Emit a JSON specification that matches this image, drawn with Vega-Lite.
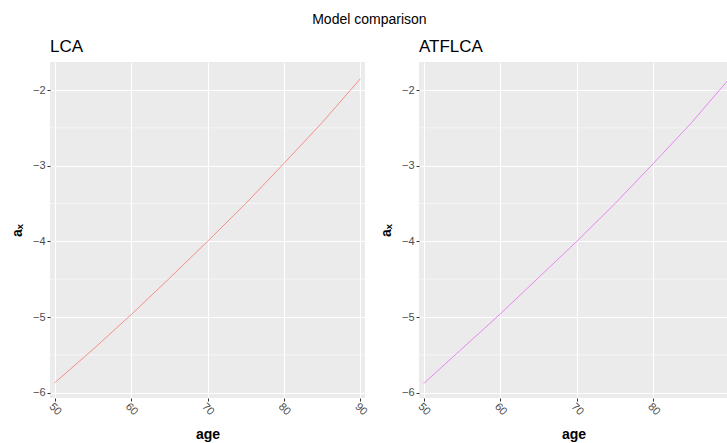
{
  "$schema": "https://vega.github.io/schema/vega-lite/v6.json",
  "background": "white",
  "padding": {"left": 10, "top": 13, "right": 0, "bottom": 0},
  "title": {"text": "Model comparison", "fontSize": 14, "font": "Liberation Sans", "fontWeight": "normal", "anchor": "middle", "color": "#000000", "offset": 11},
  "spacing": 10,
  "datasets": {
    "ax": [
      {"model": "LCA", "age": 50, "ax": -5.87},
      {"model": "LCA", "age": 55, "ax": -5.43},
      {"model": "LCA", "age": 60, "ax": -4.97},
      {"model": "LCA", "age": 65, "ax": -4.49},
      {"model": "LCA", "age": 70, "ax": -4.0},
      {"model": "LCA", "age": 75, "ax": -3.5},
      {"model": "LCA", "age": 80, "ax": -2.97},
      {"model": "LCA", "age": 85, "ax": -2.43},
      {"model": "LCA", "age": 90, "ax": -1.85},
      {"model": "ATFLCA", "age": 50, "ax": -5.88},
      {"model": "ATFLCA", "age": 55, "ax": -5.42},
      {"model": "ATFLCA", "age": 60, "ax": -4.96},
      {"model": "ATFLCA", "age": 65, "ax": -4.48},
      {"model": "ATFLCA", "age": 70, "ax": -4.0},
      {"model": "ATFLCA", "age": 75, "ax": -3.5},
      {"model": "ATFLCA", "age": 80, "ax": -2.97},
      {"model": "ATFLCA", "age": 85, "ax": -2.43},
      {"model": "ATFLCA", "age": 90, "ax": -1.84}
    ],
    "minor": [{"y": -5.5}, {"y": -4.5}, {"y": -3.5}, {"y": -2.5}]
  },
  "config": {
    "font": "Liberation Sans",
    "view": {"fill": "#EBEBEB", "stroke": null},
    "axis": {
      "gridColor": "#FFFFFF", "gridWidth": 1.1, "domain": false,
      "tickColor": "#333333", "tickSize": 3, "tickWidth": 1,
      "labelColor": "#4D4D4D", "labelFontSize": 11, "labelFont": "Liberation Sans",
      "titleFontSize": 14, "titleColor": "#000000", "titleFontWeight": "bold", "titleFont": "Liberation Sans"
    }
  },
  "hconcat": [
    {
      "width": 315, "height": 336,
      "title": {"text": "LCA", "anchor": "start", "frame": "group", "fontSize": 17, "fontWeight": "normal", "color": "#000000", "offset": 6},
      "layer": [
        {
          "data": {"name": "minor"},
          "mark": {"type": "rule", "color": "#FFFFFF", "strokeWidth": 0.55},
          "encoding": {
            "y": {"field": "y", "type": "quantitative", "scale": {"domain": [-6.07, -1.63], "nice": false, "zero": false},
                  "axis": {"values": [-6, -5, -4, -3, -2], "title": "aₓ", "format": "d", "titlePadding": 8, "labelPadding": 2}}
          }
        },
        {
          "data": {"name": "ax"},
          "transform": [{"filter": "datum.model === 'LCA'"}],
          "mark": {"type": "line", "color": "#F8766D", "strokeWidth": 0.8},
          "encoding": {
            "x": {"field": "age", "type": "quantitative", "scale": {"domain": [49.4, 90.6], "nice": false, "zero": false},
                  "axis": {"values": [50, 60, 70, 80, 90], "title": "age", "labelAngle": 45, "labelAlign": "center", "labelBaseline": "middle", "labelPadding": 8, "titlePadding": 11}},
            "y": {"field": "ax", "type": "quantitative", "scale": {"domain": [-6.07, -1.63], "nice": false, "zero": false},
                  "axis": {"values": [-6, -5, -4, -3, -2], "title": "aₓ", "format": "d", "titlePadding": 8, "labelPadding": 2}}
          }
        }
      ]
    },
    {
      "width": 309, "height": 336,
      "title": {"text": "ATFLCA", "anchor": "start", "frame": "group", "fontSize": 17, "fontWeight": "normal", "color": "#000000", "offset": 6},
      "layer": [
        {
          "data": {"name": "minor"},
          "mark": {"type": "rule", "color": "#FFFFFF", "strokeWidth": 0.55},
          "encoding": {
            "y": {"field": "y", "type": "quantitative", "scale": {"domain": [-6.07, -1.63], "nice": false, "zero": false},
                  "axis": {"values": [-6, -5, -4, -3, -2], "title": "aₓ", "format": "d", "titlePadding": 8, "labelPadding": 2}}
          }
        },
        {
          "data": {"name": "ax"},
          "transform": [{"filter": "datum.model === 'ATFLCA'"}],
          "mark": {"type": "line", "color": "#E76BF3", "strokeWidth": 0.8, "clip": true},
          "encoding": {
            "x": {"field": "age", "type": "quantitative", "scale": {"domain": [49.4, 89.74], "nice": false, "zero": false},
                  "axis": {"values": [50, 60, 70, 80], "title": "age", "labelAngle": 45, "labelAlign": "center", "labelBaseline": "middle", "labelPadding": 8, "titlePadding": 11}},
            "y": {"field": "ax", "type": "quantitative", "scale": {"domain": [-6.07, -1.63], "nice": false, "zero": false},
                  "axis": {"values": [-6, -5, -4, -3, -2], "title": "aₓ", "format": "d", "titlePadding": 8, "labelPadding": 2}}
          }
        }
      ]
    }
  ]
}
